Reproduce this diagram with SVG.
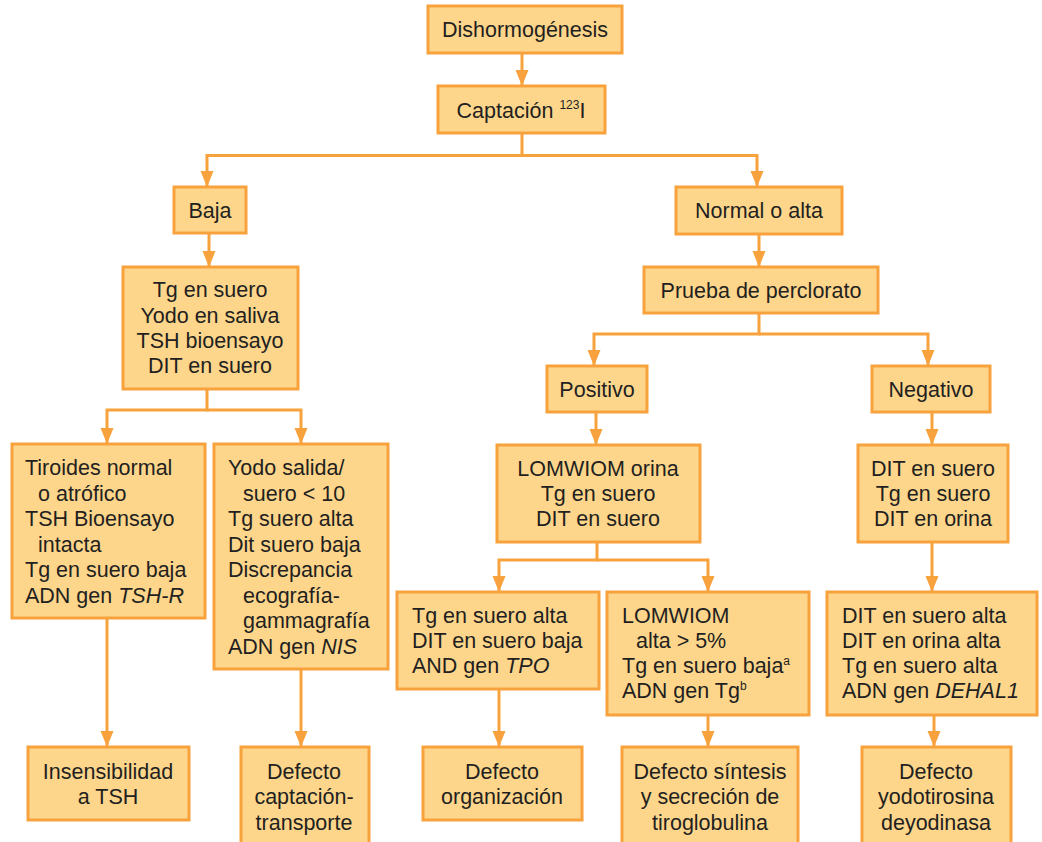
<svg xmlns="http://www.w3.org/2000/svg" width="1042" height="842" viewBox="0 0 1042 842">
  <style>
    .box { fill: #FDD68C; stroke: #F7A23C; stroke-width: 3; }
    .ln { fill: none; stroke: #F7A23C; stroke-width: 3; }
    text { font-family: "Liberation Sans", Arial, sans-serif; font-size: 21.5px; fill: #231F20; }
    .c { text-anchor: middle; }
    .sup { font-size: 12px; }
  </style>
  <defs>
    <marker id="arr" markerUnits="userSpaceOnUse" markerWidth="16" markerHeight="14" viewBox="0 0 16 14" refX="16" refY="7" orient="auto">
      <path d="M0,0.5 L16,7 L0,13.5 Z" fill="#F7A23C"/>
    </marker>
  </defs>
  <rect width="1042" height="842" fill="#FFFFFF"/>

  <!-- connectors -->
  <g id="connectors" class="ln" marker-end="url(#arr)">
    <path d="M522,53 V86"/>
    <path d="M522,133 V155.5 H207 V187"/>
    <path d="M522,155.5 H757 V187"/>
    <path d="M209,233 V267"/>
    <path d="M759,234 V267"/>
    <path d="M207,389 V410 H107 V444"/>
    <path d="M207,410 H301 V444"/>
    <path d="M759,313 V334 H594 V366"/>
    <path d="M759,334 H928 V366"/>
    <path d="M596,412 V445"/>
    <path d="M932,412 V445"/>
    <path d="M597,542 V560 H499 V592"/>
    <path d="M597,560 H708 V592"/>
    <path d="M932,542 V592"/>
    <path d="M107,618 V747"/>
    <path d="M301,669 V747"/>
    <path d="M499,689 V747"/>
    <path d="M708,715 V747"/>
    <path d="M934,715 V747"/>
  </g>

  <g id="n-dishormogenesis">
    <rect class="box" x="428" y="6" width="194" height="47"/>
    <text class="c" x="525" y="37">Dishormogénesis</text>
  </g>
  <g id="n-captacion">
    <rect class="box" x="438" y="86" width="167" height="47"/>
    <text class="c" x="521" y="118">Captación <tspan class="sup" dy="-9">123</tspan><tspan dy="9">I</tspan></text>
  </g>
  <g id="n-baja">
    <rect class="box" x="174" y="187" width="72" height="46"/>
    <text class="c" x="210" y="218">Baja</text>
  </g>
  <g id="n-normal">
    <rect class="box" x="676" y="187" width="166" height="47"/>
    <text class="c" x="759" y="218">Normal o alta</text>
  </g>
  <g id="n-pruebas-baja">
    <rect class="box" x="123" y="267" width="175" height="122"/>
    <text class="c" x="210" y="297">Tg en suero</text>
    <text class="c" x="210" y="322.5">Yodo en saliva</text>
    <text class="c" x="210" y="348">TSH bioensayo</text>
    <text class="c" x="210" y="373">DIT en suero</text>
  </g>
  <g id="n-perclorato">
    <rect class="box" x="644" y="267" width="234" height="46"/>
    <text class="c" x="761" y="298">Prueba de perclorato</text>
  </g>
  <g id="n-positivo">
    <rect class="box" x="547" y="366" width="100" height="46"/>
    <text class="c" x="597" y="397">Positivo</text>
  </g>
  <g id="n-negativo">
    <rect class="box" x="872" y="366" width="118" height="46"/>
    <text class="c" x="931" y="397">Negativo</text>
  </g>
  <g id="n-tiroides">
    <rect class="box" x="12" y="444" width="193" height="174"/>
    <text x="25" y="475">Tiroides normal</text>
    <text x="38" y="500.5">o atrófico</text>
    <text x="25" y="526">TSH Bioensayo</text>
    <text x="38" y="551.5">intacta</text>
    <text x="25" y="577">Tg en suero baja</text>
    <text x="25" y="602.5">ADN gen <tspan font-style="italic">TSH-R</tspan></text>
  </g>
  <g id="n-yodo-salida">
    <rect class="box" x="214" y="444" width="174" height="225"/>
    <text x="228" y="475">Yodo salida/</text>
    <text x="243" y="500.5">suero &lt; 10</text>
    <text x="228" y="526">Tg suero alta</text>
    <text x="228" y="551.5">Dit suero baja</text>
    <text x="228" y="577">Discrepancia</text>
    <text x="243" y="602.5">ecografía-</text>
    <text x="243" y="628">gammagrafía</text>
    <text x="228" y="653.5">ADN gen <tspan font-style="italic">NIS</tspan></text>
  </g>
  <g id="n-lomwiom-orina">
    <rect class="box" x="497" y="445" width="203" height="97"/>
    <text class="c" x="598" y="476">LOMWIOM orina</text>
    <text class="c" x="598" y="501">Tg en suero</text>
    <text class="c" x="598" y="526">DIT en suero</text>
  </g>
  <g id="n-dit-suero">
    <rect class="box" x="858" y="445" width="150" height="97"/>
    <text class="c" x="933" y="476">DIT en suero</text>
    <text class="c" x="933" y="501">Tg en suero</text>
    <text class="c" x="933" y="526">DIT en orina</text>
  </g>
  <g id="n-tg-alta">
    <rect class="box" x="397" y="592" width="202" height="97"/>
    <text x="412" y="623">Tg en suero alta</text>
    <text x="412" y="648">DIT en suero baja</text>
    <text x="412" y="673">AND gen <tspan font-style="italic">TPO</tspan></text>
  </g>
  <g id="n-lomwiom-alta">
    <rect class="box" x="607" y="592" width="202" height="123"/>
    <text x="622" y="623">LOMWIOM</text>
    <text x="636" y="648">alta &gt; 5%</text>
    <text x="622" y="673">Tg en suero baja<tspan class="sup" dy="-8">a</tspan></text>
    <text x="622" y="698">ADN gen Tg<tspan class="sup" dy="-8">b</tspan></text>
  </g>
  <g id="n-dit-alta">
    <rect class="box" x="827" y="592" width="210" height="123"/>
    <text x="842" y="623">DIT en suero alta</text>
    <text x="842" y="648">DIT en orina alta</text>
    <text x="842" y="673">Tg en suero alta</text>
    <text x="842" y="698">ADN gen <tspan font-style="italic">DEHAL1</tspan></text>
  </g>
  <g id="n-insensibilidad">
    <rect class="box" x="28" y="747" width="161" height="73"/>
    <text class="c" x="108" y="779">Insensibilidad</text>
    <text class="c" x="108" y="804">a TSH</text>
  </g>
  <g id="n-captacion-transporte">
    <rect class="box" x="241" y="747" width="128" height="100"/>
    <text class="c" x="304" y="779">Defecto</text>
    <text class="c" x="304" y="804">captación-</text>
    <text class="c" x="304" y="830">transporte</text>
  </g>
  <g id="n-organizacion">
    <rect class="box" x="423" y="747" width="159" height="73"/>
    <text class="c" x="502" y="779">Defecto</text>
    <text class="c" x="502" y="804">organización</text>
  </g>
  <g id="n-tiroglobulina">
    <rect class="box" x="622" y="747" width="176" height="100"/>
    <text class="c" x="710" y="779">Defecto síntesis</text>
    <text class="c" x="710" y="804">y secreción de</text>
    <text class="c" x="710" y="830">tiroglobulina</text>
  </g>
  <g id="n-deyodinasa">
    <rect class="box" x="862" y="747" width="149" height="100"/>
    <text class="c" x="936" y="779">Defecto</text>
    <text class="c" x="936" y="804">yodotirosina</text>
    <text class="c" x="936" y="830">deyodinasa</text>
  </g>
</svg>
